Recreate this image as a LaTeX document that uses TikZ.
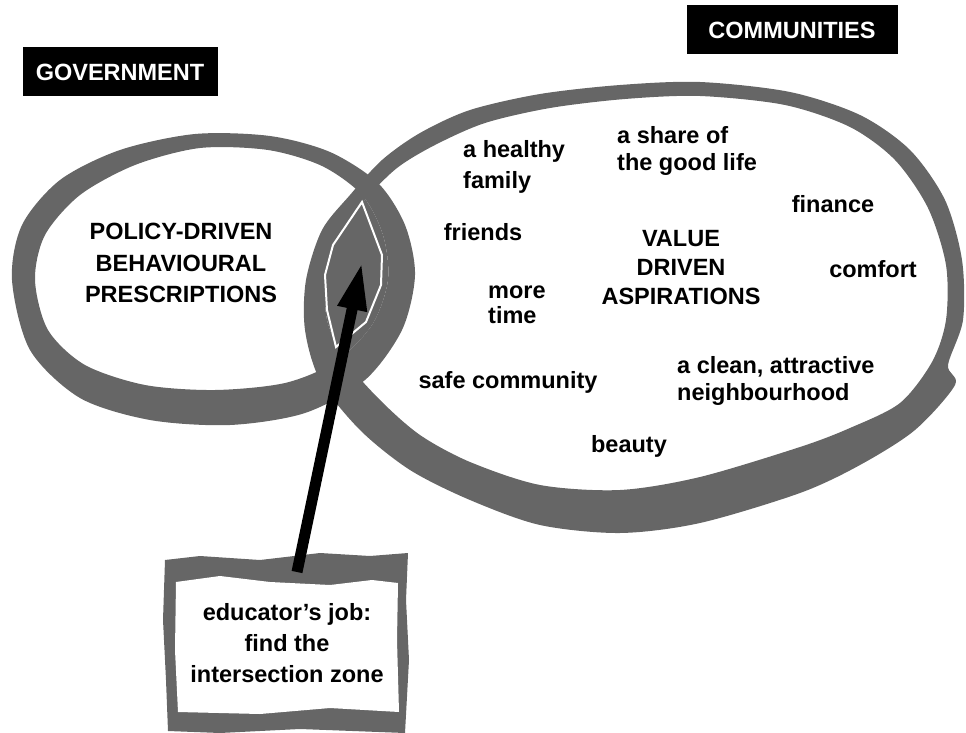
\documentclass[tikz,border=0pt]{standalone}
\usepackage{fontspec}
\setmainfont{Liberation Sans}
\usetikzlibrary{arrows.meta,positioning}
\definecolor{brush}{HTML}{666666}

\begin{document}
\begin{tikzpicture}[x=1pt, y=-1pt]
\tikzstyle{lbl} = [inner sep=0pt, font=\bfseries\fontsize{23.5}{25}\selectfont]
\tikzstyle{tag} = [lbl, fill=black, text=white, minimum height=49pt]
\tikzstyle{lens} = [fill=brush, draw=white, line width=2pt]
\tikzstyle{pointer} = [line width=11pt, -{Triangle[length=48pt,width=27pt]}]

\useasboundingbox (0,0) rectangle (966,733);

% government ring
\fill[brush, even odd rule]
  plot[smooth cycle] coordinates {(12,280) (22,225) (60,180) (120,150) (195,134) (270,136) (330,152) (378,183) (405,225) (415,275) (402,330) (365,380) (305,413) (230,425) (150,420) (80,398) (30,350)}
  plot[smooth cycle] coordinates {(35,280) (45,235) (80,195) (135,165) (200,148) (268,150) (322,166) (362,195) (383,235) (388,280) (372,325) (335,362) (285,383) (215,390) (145,385) (85,365) (48,330)};

% communities ring
\fill[brush, even odd rule]
  plot[smooth cycle] coordinates {(420,133) (470,110) (540,94) (620,85) (700,82) (790,92) (860,115) (910,150) (945,200) (962,260) (963,320) (948,365) (955,385) (915,430) (860,465) (800,493) (700,523) (620,533) (540,525) (470,500) (410,470) (360,430) (320,380) (305,330) (306,280) (322,230) (350,195) (382,160)}
  plot[smooth cycle] coordinates {(435,145) (485,123) (550,108) (625,99) (700,96) (785,105) (850,127) (895,160) (928,208) (946,265) (946,320) (932,362) (900,403) (850,428) (800,447) (700,477) (620,490) (540,485) (470,462) (420,435) (380,400) (345,360) (327,320) (326,275) (340,235) (365,200) (397,168)};

% where they meet
\begin{scope}
\clip plot[smooth cycle] coordinates {(35,280) (45,235) (80,195) (135,165) (200,148) (268,150) (322,166) (362,195) (383,235) (388,280) (372,325) (335,362) (285,383) (215,390) (145,385) (85,365) (48,330)};
\fill[brush] plot[smooth cycle] coordinates {(435,145) (485,123) (550,108) (625,99) (700,96) (785,105) (850,127) (895,160) (928,208) (946,265) (946,320) (932,362) (900,403) (850,428) (800,447) (700,477) (620,490) (540,485) (470,462) (420,435) (380,400) (345,360) (327,320) (326,275) (340,235) (365,200) (397,168)};
\end{scope}
\draw[lens] (362,202) -- (382,255) -- (381,285) -- (366,322) -- (336,347) -- (327,310) -- (325,275) -- (333,245) -- cycle;
\coordinate (zone) at (362,262);

% rough frame
\fill[brush] (165,560) -- (200,556) -- (260,560) -- (320,553) -- (370,556) -- (408,553) -- (406,600) -- (409,660) -- (405,733) -- (300,729) -- (220,733) -- (168,731) -- (166,680) -- (163,620) -- cycle;
\fill[white] (176,582) -- (220,576) -- (270,582) -- (330,585) -- (372,580) -- (398,583) -- (397,640) -- (399,712) -- (330,708) -- (260,714) -- (178,712) -- (175,650) -- cycle;

\node[tag, minimum width=195pt] (gov) at (120,72) {GOVERNMENT};
\node[tag, minimum width=211pt] (comm) at (792,30) {COMMUNITIES};

\node[lbl, align=center, anchor=north] (policy) at (181,223) {POLICY-DRIVEN\\[6.5pt] BEHAVIOURAL\\[6.5pt] PRESCRIPTIONS};
\node[lbl, align=center, anchor=north] (value) at (681,230) {VALUE\\[4pt] DRIVEN\\[4pt] ASPIRATIONS};
\node[lbl, align=left, anchor=north west] (health) at (463,140) {a healthy\\[6pt] family};
\node[lbl, align=left, anchor=north west] (share) at (617,126) {a share of\\[2pt] the good life};
\node[lbl, anchor=base] (finance) at (833,212) {finance};
\node[lbl, anchor=base] (friends) at (483,240) {friends};
\node[lbl, anchor=base] (comfort) at (873,277) {comfort};
\node[lbl, align=left, anchor=north west] (time) at (488,286) {more\\ time};
\node[lbl, align=left, anchor=north west] (clean) at (677,356) {a clean, attractive\\[2pt] neighbourhood};
\node[lbl, anchor=base] (safe) at (508,388) {safe community};
\node[lbl, anchor=base] (beauty) at (629,452) {beauty};
\node[lbl, align=center, anchor=north] (edu) at (287,603) {educator’s job:\\[6pt] find the\\[6pt] intersection zone};

\draw[pointer] ([xshift=10pt, yshift=31pt]edu.north) -- (zone);
\end{tikzpicture}
\end{document}
